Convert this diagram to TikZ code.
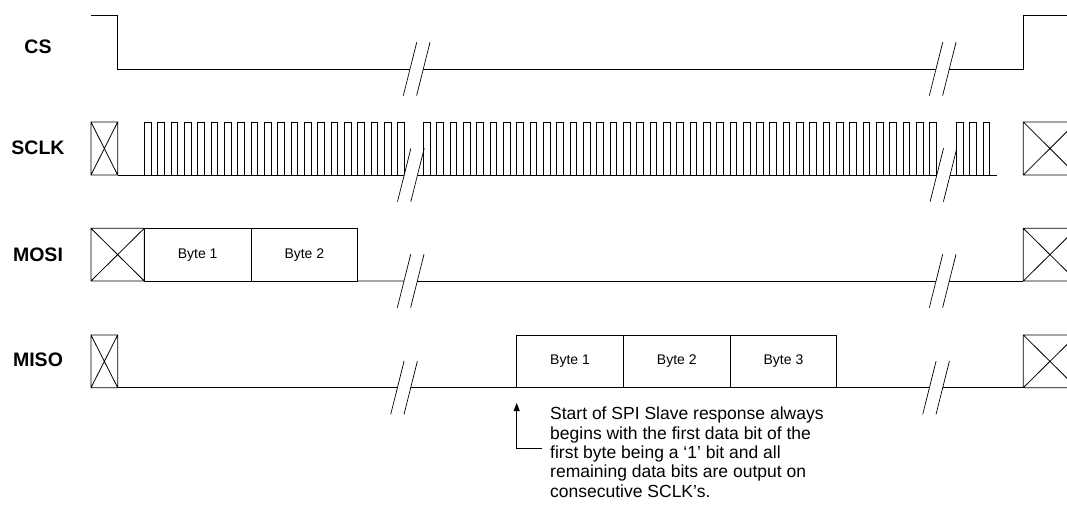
\documentclass[tikz,border=0pt]{standalone}
\usepackage{fontspec}
\setmainfont{Liberation Sans}
\usetikzlibrary{positioning,arrows.meta}
\tikzset{
  wave/.style={line width=0.8pt, black},
  brk/.style={line width=0.7pt, black},
  siglabel/.style={font=\fontsize{19.5}{22}\selectfont\bfseries},
  bytebox/.style={draw, line width=0.8pt, minimum width=106.7pt, minimum height=52.7pt,
    inner sep=0pt, outer sep=0pt, font=\fontsize{14}{16}\selectfont},
  note/.style={align=left, inner sep=0pt, font=\fontsize{17.5}{19.4}\selectfont},
}
% crossed box: x left, x right, y top, y bottom
\newcommand{\xbox}[4]{%
  \draw[wave] (#1,#3) rectangle (#2,#4) (#1,#3) -- (#2,#4) (#1,#4) -- (#2,#3);}
% time break: x where the first slash crosses the line, y of the line
\newcommand{\tbreak}[2]{%
  \draw[brk] ({#1-6.7},{#2+26.7}) -- ({#1+6.7},{#2-26.7});
  \draw[brk] ({#1+6.6},{#2+26.7}) -- ({#1+20},{#2-26.7});}
\begin{document}
\begin{tikzpicture}[x=1pt, y=-1pt]
    \clip (0,0) rectangle (1067,505);

    % Signal names
    \node[siglabel] (lcs) at (38,46.7) {CS};
    \node[siglabel] (lsclk) at (38,147.7) {SCLK};
    \node[siglabel] (lmosi) at (38,255) {MOSI};
    \node[siglabel] (lmiso) at (38,360) {MISO};

    % CS
    \draw[wave] (91,15.7) -- (117.7,15.7) -- (117.7,69) -- (410,69);
    \draw[wave] (423.4,69) -- (936,69);
    \draw[wave] (949.4,69) -- (1023.3,69) -- (1023.3,15.7) -- (1067,15.7);
    \tbreak{410}{69}
    \tbreak{936}{69}

    % SCLK
    \xbox{91}{117.7}{122}{175}
    \draw[wave] (117.7,175) -- (404.2,175);
    \foreach \k in {0,...,19}
        \draw[wave] ({144.3+13.33*\k},175) -- ++(0,-53) -- ++(6.67,0) -- ++(0,53);
    \draw[wave] (417.6,175) -- (936.8,175);
    \foreach \k in {0,...,38}
        \draw[wave] ({423.3+13.33*\k},175) -- ++(0,-53) -- ++(6.67,0) -- ++(0,53);
    \draw[wave] (950,175) -- (996.7,175);
    \foreach \k in {40,41,42}
        \draw[wave] ({423.3+13.33*\k},175) -- ++(0,-53) -- ++(6.67,0) -- ++(0,53);
    \tbreak{404.2}{175}
    \tbreak{936.8}{175}
    \xbox{1023.3}{1076.6}{122}{175}

    % MOSI
    \xbox{91}{144.3}{228.3}{281}
    \node[bytebox] (mo1) at (197.65,254.65) {Byte 1};
    \node[bytebox, right=0pt of mo1] (mo2) {Byte 2};
    \draw[wave] (mo2.south east) -- (404,281);
    \draw[wave] (417.4,281) -- (936,281);
    \draw[wave] (949.4,281) -- (1023.3,281);
    \tbreak{404}{281}
    \tbreak{936}{281}
    \xbox{1023.3}{1076.6}{228.3}{281}

    % MISO
    \xbox{91}{117.7}{335}{387.7}
    \draw[wave] (117.7,387.7) -- (397.4,387.7);
    \node[bytebox] (mi1) at (570.05,361.35) {Byte 1};
    \node[bytebox, right=0pt of mi1] (mi2) {Byte 2};
    \node[bytebox, right=0pt of mi2] (mi3) {Byte 3};
    \draw[wave] (410.8,387.7) -- (mi1.south west);
    \draw[wave] (mi3.south east) -- (929.4,387.7);
    \draw[wave] (942.8,387.7) -- (1023.3,387.7);
    \tbreak{397.4}{387.7}
    \tbreak{929.4}{387.7}
    \xbox{1023.3}{1076.6}{335}{387.7}

    % Response note
    \node[note, anchor=north west] (resp) at (550,406.8)
        {Start of SPI Slave response always\\
         begins with the first data bit of the\\
         first byte being a `1' bit and all\\
         remaining data bits are output on\\
         consecutive SCLK's.};
    \draw[wave, -{Triangle[length=8pt,width=6pt]}] ([xshift=-8.3pt, yshift=3.7pt]resp.west)
        -| ([yshift=-15.3pt]mi1.south west);
\end{tikzpicture}
\end{document}
